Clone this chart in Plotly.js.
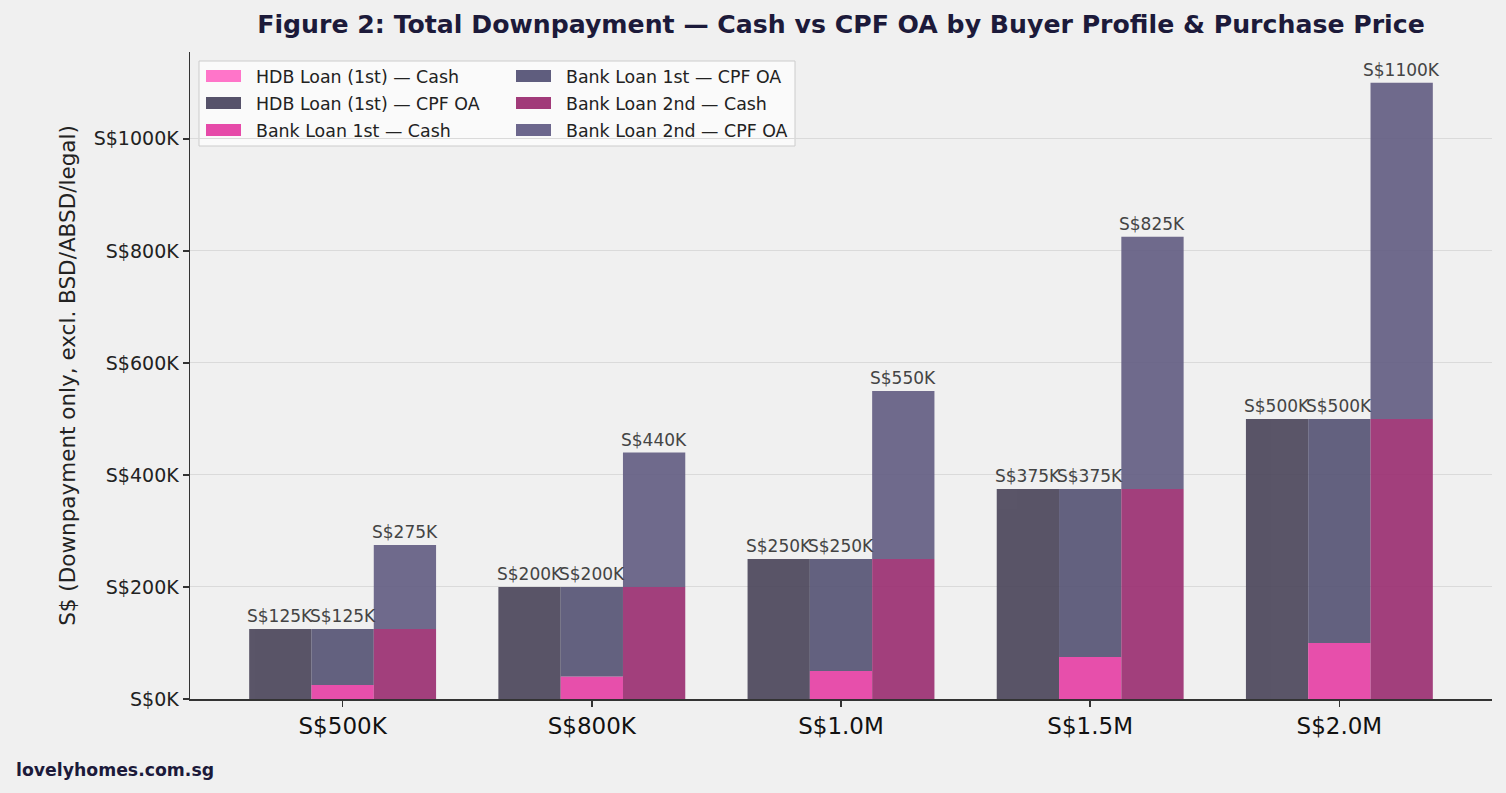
<!DOCTYPE html>
<html>
<head>
<meta charset="utf-8">
<script src="https://cdn.plot.ly/plotly-3.0.1.min.js"></script>
<style>
  html, body { margin: 0; padding: 0; background: #f0f0f0; }
  #chart { width: 1506px; height: 793px; }
  /* the wide swatch rectangles stand in for the small square legend symbols */
  #chart .legendpoints path { visibility: hidden !important; }
</style>
</head>
<body>
<div id="chart"></div>
<script>
// Purchase price bands (x categories)
const priceLabels = ["S$500K", "S$800K", "S$1.0M", "S$1.5M", "S$2.0M"];

// Downpayment components, in S$ thousands
const hdbCash = [0, 0, 0, 0, 0];
const hdbCpf = [125, 200, 250, 375, 500];
const bank1Cash = [25, 40, 50, 75, 100];
const bank1Cpf = [100, 160, 200, 300, 400];
const bank2Cash = [125, 200, 250, 375, 500];
const bank2Cpf = [150, 240, 300, 450, 600];

// Y tick values (S$ thousands)
const yTicks = [0, 200, 400, 600, 800, 1000];

const W = 1506, H = 793;
const M = { l: 190, r: 14, t: 52, b: 94 };
const PW = W - M.l - M.r, PH = H - M.t - M.b;
const px = x => (x - M.l) / PW;
const py = y => (H - M.b - y) / PH;

const barW = 0.25;
const groupOffsets = [-0.25, 0, 0.25];
const idx = priceLabels.map((_, i) => i);
const xs = k => idx.map(i => i + groupOffsets[k]);
const sum = (a, b) => a.map((v, i) => v + b[i]);

const font = "DejaVu Sans, Verdana, sans-serif";

// Legend grid: two columns of three rows (pixel positions)
const legendCols = [216, 526];
const legendRows = [76, 103, 130];
const swatchCols = [206, 516];

const seriesColors = ["#ff6ac5", "#494459", "#e53da3", "#535172", "#992b6f", "#615b81"];
const swatchColors = ["#ff75c9", "#56526a", "#e64aa9", "#5f5d7e", "#a13a79", "#6c678d"];
const legendSlots = [[0, 0], [0, 1], [0, 2], [1, 0], [1, 1], [1, 2]];
const legendIds = ["legend", "legend2", "legend3", "legend4", "legend5", "legend6"];

function bar(n, name, x, y, base) {
  return {
    type: "bar", name, x, y, base, width: barW,
    marker: { color: seriesColors[n], line: { width: 0 } },
    opacity: 0.9,
    legend: legendIds[n],
    showlegend: true,
    hoverinfo: "name+y"
  };
}

const zeros = a => a.map(() => 0);
const traces = [
  bar(0, "HDB Loan (1st) — Cash", xs(0), hdbCash, zeros(hdbCash)),
  bar(1, "HDB Loan (1st) — CPF OA", xs(0), hdbCpf, hdbCash),
  bar(2, "Bank Loan 1st — Cash", xs(1), bank1Cash, zeros(bank1Cash)),
  bar(3, "Bank Loan 1st — CPF OA", xs(1), bank1Cpf, bank1Cash),
  bar(4, "Bank Loan 2nd — Cash", xs(2), bank2Cash, zeros(bank2Cash)),
  bar(5, "Bank Loan 2nd — CPF OA", xs(2), bank2Cpf, bank2Cash)
];

// Total downpayment labels above each bar
const totals = [sum(hdbCash, hdbCpf), sum(bank1Cash, bank1Cpf), sum(bank2Cash, bank2Cpf)];
const valueLabels = [];
totals.forEach((tot, k) => {
  xs(k).forEach((x, i) => {
    valueLabels.push({
      x, y: tot[i], xref: "x", yref: "y",
      text: "S$" + tot[i] + "K",
      xanchor: "center", yanchor: "bottom", yshift: 1,
      showarrow: false,
      font: { family: font, size: 17, color: "#444444" }
    });
  });
});

function legendBox(col, row) {
  return {
    x: px(legendCols[col]), y: py(legendRows[row]),
    xanchor: "left", yanchor: "middle",
    bgcolor: "rgba(0,0,0,0)", borderwidth: 0,
    font: { family: font, size: 17.4, color: "#222222" },
    itemwidth: 30, tracegroupgap: 0,
    visible: true
  };
}

// Legend frame plus wide colour swatches for each entry
const legendShapes = [{
  type: "rect", xref: "paper", yref: "paper", layer: "below",
  x0: px(199), x1: px(795), y0: py(146), y1: py(61),
  fillcolor: "rgba(252,252,252,0.85)",
  line: { color: "#cccccc", width: 1 }
}].concat(legendSlots.map(([c, r], n) => ({
  type: "rect", xref: "paper", yref: "paper", layer: "above",
  x0: px(swatchCols[c]), x1: px(swatchCols[c] + 35),
  y0: py(legendRows[r] + 6), y1: py(legendRows[r] - 6),
  fillcolor: swatchColors[n],
  line: { width: 0 }
})));

const layout = {
  width: W, height: H,
  margin: M,
  showlegend: true,
  paper_bgcolor: "#f0f0f0",
  plot_bgcolor: "#f0f0f0",
  barmode: "overlay",
  font: { family: font, color: "#222222" },
  title: {
    text: "<b>Figure 2: Total Downpayment — Cash vs CPF OA by Buyer Profile & Purchase Price</b>",
    font: { family: font, size: 25.2, color: "#1c1a3a" },
    x: px(841), xref: "paper", xanchor: "center",
    y: 1 - 24 / H, yanchor: "middle"
  },
  xaxis: {
    range: [-0.6125, 4.6125],
    tickvals: idx, ticktext: priceLabels,
    tickfont: { family: font, size: 23, color: "#111111" },
    ticks: "outside", ticklen: 6, tickwidth: 1.5, tickcolor: "#333333",
    showline: true, linecolor: "#333333", linewidth: 1.5,
    showgrid: false, zeroline: false, fixedrange: true
  },
  yaxis: {
    range: [0, 1155],
    tickvals: yTicks, ticktext: yTicks.map(v => "S$" + v + "K"),
    tickfont: { family: font, size: 19, color: "#222222" },
    ticks: "outside", ticklen: 6, tickwidth: 1.5, tickcolor: "#333333",
    showline: true, linecolor: "#333333", linewidth: 1.5,
    showgrid: true, gridcolor: "#dadada", gridwidth: 1,
    zeroline: false, fixedrange: true,
    title: {
      text: "S$ (Downpayment only, excl. BSD/ABSD/legal)",
      font: { family: font, size: 21.5, color: "#222222" },
      standoff: 12
    }
  },
  shapes: legendShapes,
  annotations: valueLabels.concat([{
    text: "<b>lovelyhomes.com.sg</b>",
    xref: "paper", yref: "paper",
    x: px(14), y: py(770), xanchor: "left", yanchor: "middle",
    showarrow: false,
    font: { family: font, size: 17.3, color: "#1c1a3a" }
  }])
};
legendSlots.forEach(([c, r], n) => { layout[legendIds[n]] = legendBox(c, r); });

Plotly.newPlot("chart", traces, layout, { displayModeBar: false, staticPlot: true });
</script>
</body>
</html>
